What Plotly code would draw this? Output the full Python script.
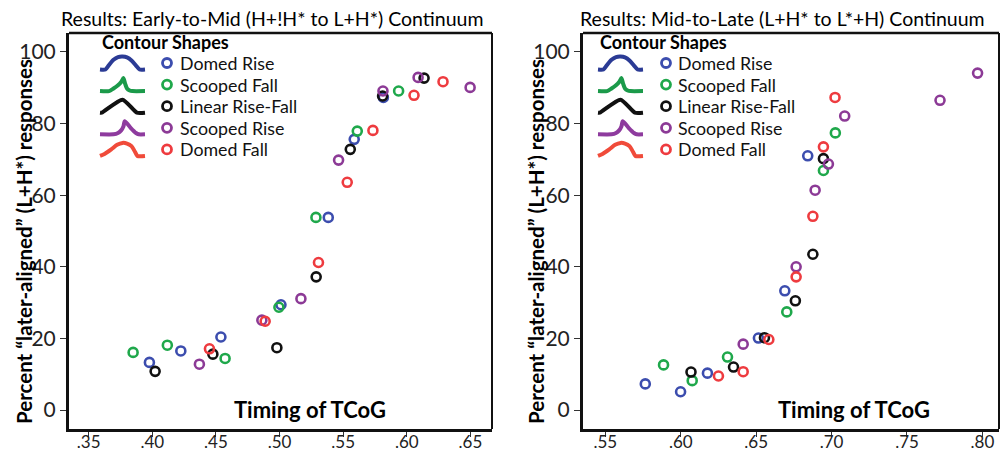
import plotly.graph_objects as go

# ---------------- data ----------------
contour_names = ["Domed Rise", "Scooped Fall", "Linear Rise-Fall", "Scooped Rise", "Domed Fall"]
marker_colors = ["#3C4DAE", "#1FA84B", "#111111", "#8C3A96", "#EE3B3F"]
icon_colors = ["#2B3B95", "#1B9A4A", "#111111", "#8E3B9E", "#F04B3A"]

# Early-to-Mid continuum (left panel)
early_domed_rise_x = [.5816, .5587, .5383, .5011, .4539, .4224, .3977]
early_domed_rise_y = [87.3, 75.6, 53.8, 29.4, 20.4, 16.5, 13.3]
early_scooped_fall_x = [.5936, .5611, .5286, .4995, .4572, .4118, .3849]
early_scooped_fall_y = [89.1, 77.9, 53.8, 28.7, 14.4, 18.1, 16.1]
early_linear_x = [.6136, .5810, .5556, .5288, .4979, .4476, .4022]
early_linear_y = [92.7, 87.7, 72.8, 37.2, 17.4, 15.6, 10.8]
early_scooped_rise_x = [.6498, .6089, .5813, .5464, .5168, .4861, .4370]
early_scooped_rise_y = [90.1, 92.9, 89.1, 69.8, 31.1, 25.1, 12.8]
early_domed_fall_x = [.6285, .6057, .5734, .5532, .5306, .4887, .4449]
early_domed_fall_y = [91.7, 87.9, 78.1, 63.6, 41.2, 24.8, 17.1]

# Mid-to-Late continuum (right panel)
late_domed_rise_x = [.6842, .6690, .6515, .6177, .5999, .5765]
late_domed_rise_y = [71.0, 33.3, 20.1, 10.3, 5.1, 7.3]
late_scooped_fall_x = [.7025, .6946, .6703, .6310, .6076, .5886]
late_scooped_fall_y = [77.4, 66.9, 27.4, 14.8, 8.2, 12.6]
late_linear_x = [.6946, .6876, .6760, .6555, .6350, .6068]
late_linear_y = [70.2, 43.5, 30.5, 20.2, 12.0, 10.6]
late_scooped_rise_x = [.7968, .7719, .7087, .6979, .6891, .6765, .6414]
late_scooped_rise_y = [94.1, 86.5, 82.1, 68.7, 61.4, 40.0, 18.4]
late_domed_fall_x = [.7023, .6946, .6876, .6765, .6584, .6414, .6250]
late_domed_fall_y = [87.3, 73.5, 54.1, 37.2, 19.7, 10.7, 9.5]

early_x_ticks = [.35, .40, .45, .50, .55, .60, .65]
early_x_labels = [".35", ".40", ".45", ".50", ".55", ".60", ".65"]
late_x_ticks = [.55, .60, .65, .70, .75, .80]
late_x_labels = [".55", ".60", ".65", ".70", ".75", ".80"]
y_ticks = [0, 20, 40, 60, 80, 100]
y_labels = ["0", "20", "40", "60", "80", "100"]

titles = ["Results: Early-to-Mid (H+!H* to L+H*) Continuum",
          "Results: Mid-to-Late (L+H* to L*+H) Continuum"]
y_title = "Percent \u201clater-aligned\u201d (L+H*) responses"
x_title = "Timing of TCoG"
legend_title = "Contour Shapes"

# contour icon profiles (normalised shape outlines for the legend glyphs)
icon_profiles = [
    ([0, .12, .2, .3, .4, .5, .6, .7, .8, .88, 1], [0, 0, .35, .75, .96, 1, .94, .7, .3, 0, 0]),
    ([0, .2, .3, .4, .47, .52, .56, .6, .66, .72, 1], [0, 0, .2, .45, .7, 1, .55, .2, .05, 0, 0]),
    ([0, .04, .5, .82, 1], [0, 0, 1, 0, 0]),
    ([0, .3, .4, .47, .52, .55, .68, .8, .86, 1], [0, 0, .1, .3, .6, 1, .5, .1, 0, 0]),
    ([0, .1, .25, .38, .5, .6, .7, .78, .83, 1], [0, .15, .5, .85, 1, .95, .75, .3, 0, 0]),
]

early_series = [(early_domed_rise_x, early_domed_rise_y), (early_scooped_fall_x, early_scooped_fall_y),
                (early_linear_x, early_linear_y), (early_scooped_rise_x, early_scooped_rise_y),
                (early_domed_fall_x, early_domed_fall_y)]
late_series = [(late_domed_rise_x, late_domed_rise_y), (late_scooped_fall_x, late_scooped_fall_y),
               (late_linear_x, late_linear_y), (late_scooped_rise_x, late_scooped_rise_y),
               (late_domed_fall_x, late_domed_fall_y)]

# ---------------- layout constants (pixels) ----------------
W, H = 1001, 452
FONT = "Lato"
panels = [
    dict(x0=69, x1=492, xrange=[.3345, .667], ticks=early_x_ticks, labels=early_x_labels,
         series=early_series, title_x=272, ytitle_x=24, xtitle_x=310,
         icon_x0=100, mark_x=167, text_x=179, leg_title_x=101),
    dict(x0=583, x1=999, xrange=[.5352, .811], ticks=late_x_ticks, labels=late_x_labels,
         series=late_series, title_x=782, ytitle_x=536, xtitle_x=854,
         icon_x0=598, mark_x=666, text_x=677, leg_title_x=599),
]
PT, PB = 33, 429
row_y0, row_dy = 63, 21.6
icon_w, icon_h = 45, 13

fig = go.Figure()
layout = dict(width=W, height=H, margin=dict(l=0, r=0, t=0, b=0, autoexpand=False),
              paper_bgcolor="white", plot_bgcolor="rgba(0,0,0,0)", showlegend=False,
              font=dict(family=FONT, color="#111111"))
shapes, annotations = [], []

for i, p in enumerate(panels):
    xa = "xaxis" if i == 0 else "xaxis2"
    ya = "yaxis" if i == 0 else "yaxis2"
    xr = "x" if i == 0 else "x2"
    yr = "y" if i == 0 else "y2"
    layout[xa] = dict(domain=[p["x0"] / W, p["x1"] / W], range=p["xrange"], anchor=yr, automargin=False,
                      tickvals=p["ticks"], ticktext=p["labels"], ticks="outside", ticklen=5,
                      tickwidth=1, tickcolor="#333", showline=True, linewidth=3, linecolor="#111",
                      ticklabelstandoff=-9,
                      showgrid=False, zeroline=False, tickfont=dict(family=FONT, size=17, color="#222"))
    layout[ya] = dict(domain=[1 - PB / H, 1 - PT / H], range=[-5.3, 105.3], anchor=xr, automargin=False,
                      tickvals=y_ticks, ticktext=y_labels, ticks="outside", ticklen=6,
                      tickwidth=1, tickcolor="#333", showline=True, linewidth=3, linecolor="#111",
                      showgrid=False, zeroline=False, tickfont=dict(family=FONT, size=21, color="#222"))
    # top and right frame lines
    shapes.append(dict(type="line", xref=xr + " domain", yref=yr + " domain", x0=0, x1=1, y0=1, y1=1,
                       line=dict(color="#111", width=2.5)))
    shapes.append(dict(type="line", xref=xr + " domain", yref=yr + " domain", x0=1, x1=1, y0=0, y1=1,
                       line=dict(color="#111", width=2)))
    for (sx, sy), name, col in zip(p["series"], contour_names, marker_colors):
        fig.add_trace(go.Scatter(x=sx, y=sy, mode="markers", name=name, xaxis=xr, yaxis=yr,
                                 marker=dict(symbol="circle-open", size=9, color=col,
                                             line=dict(width=2.6, color=col)), cliponaxis=False))
    # legend block (pixel overlay axis x3/y3)
    annotations.append(dict(x=p["leg_title_x"], y=42, xref="x3", yref="y3", text="<b>" + legend_title + "</b>",
                            showarrow=False, xanchor="left", yanchor="middle", borderpad=0,
                            font=dict(family=FONT, size=18, color="#000")))
    for k, (name, mcol, icol, (px, py)) in enumerate(zip(contour_names, marker_colors, icon_colors, icon_profiles)):
        ry = row_y0 + k * row_dy
        fig.add_trace(go.Scatter(x=[p["icon_x0"] + v * icon_w for v in px],
                                 y=[ry + icon_h / 2 - v * icon_h for v in py],
                                 mode="lines", line=dict(color=icol, width=4, shape="spline", smoothing=0.6),
                                 xaxis="x3", yaxis="y3", hoverinfo="skip"))
        fig.add_trace(go.Scatter(x=[p["mark_x"]], y=[ry], mode="markers", xaxis="x3", yaxis="y3",
                                 marker=dict(symbol="circle-open", size=9, color=mcol,
                                             line=dict(width=2.8, color=mcol)), hoverinfo="skip"))
        annotations.append(dict(x=p["text_x"], y=ry, xref="x3", yref="y3", text=name, showarrow=False,
                                xanchor="left", yanchor="middle", borderpad=0,
                                font=dict(family=FONT, size=17.8, color="#111")))
    annotations.append(dict(x=p["title_x"], y=18.5, xref="x3", yref="y3", text=titles[i], showarrow=False,
                            xanchor="center", yanchor="middle", borderpad=0,
                            font=dict(family=FONT, size=19.5, color="#000")))
    annotations.append(dict(x=p["ytitle_x"], y=242, xref="x3", yref="y3", text="<b>" + y_title + "</b>",
                            showarrow=False, textangle=-90, xanchor="center", yanchor="middle",
                            font=dict(family=FONT, size=20.5, color="#000")))
    annotations.append(dict(x=p["xtitle_x"], y=409, xref="x3", yref="y3", text="<b>" + x_title + "</b>",
                            showarrow=False, xanchor="center", yanchor="middle",
                            font=dict(family=FONT, size=22, color="#000")))

layout["xaxis3"] = dict(domain=[0, 1], range=[0, W], visible=False, anchor="y3", fixedrange=True, automargin=False)
layout["yaxis3"] = dict(domain=[0, 1], range=[H, 0], visible=False, anchor="x3", fixedrange=True, automargin=False)
layout["shapes"] = shapes
layout["annotations"] = annotations
fig.update_layout(**layout)
fig.write_html("out.html")
